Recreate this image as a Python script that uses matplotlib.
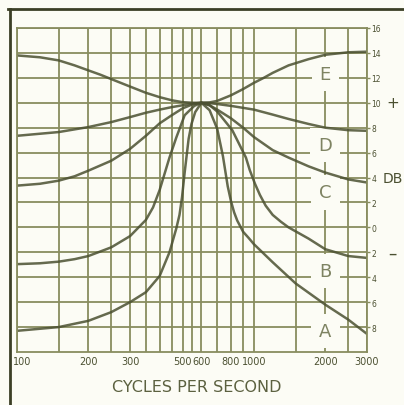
"""
Response curves A-E: level (DB) vs frequency, all meeting at +10 DB near 600 c/s.
Recreated from a scanned chart; values read off the picture.
"""

import matplotlib
matplotlib.use("Agg")
import matplotlib.pyplot as plt
from matplotlib.lines import Line2D
from matplotlib.transforms import ScaledTranslation

# ── data ──────────────────────────────────────────────────────────────────────

E_HZ = [100, 125, 150, 175, 200, 225, 250, 300, 350, 400, 450, 500, 550, 600,
        650, 700, 800, 900, 1000, 1100, 1200, 1400, 1700, 2000, 2500, 3000]
E_DB = [13.8, 13.65, 13.4, 13.0, 12.6, 12.25, 11.9, 11.3, 10.8, 10.45, 10.2, 10.05, 10.0, 10.0,
        10.03, 10.15, 10.6, 11.1, 11.6, 12.0, 12.4, 13.0, 13.5, 13.85, 14.05, 14.1]

D_HZ = [100, 150, 200, 250, 300, 350, 400, 450, 500, 550, 600,
        650, 700, 800, 1000, 1200, 1400, 1700, 2000, 2500, 3000]
D_DB = [7.35, 7.65, 8.05, 8.45, 8.85, 9.2, 9.45, 9.65, 9.8, 9.93, 10.0,
        9.97, 9.9, 9.75, 9.45, 9.05, 8.7, 8.3, 8.0, 7.8, 7.75]

C_HZ = [100, 125, 150, 175, 200, 250, 300, 350, 400, 450, 500, 550, 600,
        650, 700, 800, 900, 1000, 1200, 1400, 1700, 2000, 2500, 3000]
C_DB = [3.35, 3.5, 3.75, 4.1, 4.55, 5.35, 6.3, 7.35, 8.35, 9.0, 9.55, 9.87, 10.0,
        9.8, 9.45, 8.75, 8.0, 7.25, 6.2, 5.6, 4.9, 4.4, 3.85, 3.6]

B_HZ = [100, 125, 150, 175, 200, 250, 300, 350, 375, 400, 440, 470, 510, 560, 600,
        650, 700, 810, 925, 960, 1010, 1060, 1120, 1200, 1300, 1400, 1700, 2000, 2500, 3000]
B_DB = [-2.95, -2.88, -2.75, -2.55, -2.3, -1.6, -0.7, 0.6, 1.6, 3.0, 5.6, 7.2, 9.0, 9.75, 10.0,
        9.8, 9.3, 7.8, 5.6, 4.6, 3.5, 2.6, 1.75, 1.0, 0.45, 0.0, -0.9, -1.75, -2.3, -2.45]

A_HZ = [100, 150, 200, 250, 300, 350, 400, 440, 470, 485, 497, 510, 530, 545, 565, 600,
        650, 700, 740, 775, 800, 825, 850, 900, 950, 1000, 1200, 1500, 2000, 2500, 3000]
A_DB = [-8.3, -8.0, -7.5, -6.8, -6.0, -5.2, -3.9, -2.0, -0.1, 1.0, 2.4, 4.4, 7.1, 8.3, 9.25, 10.0,
        9.4, 7.9, 5.7, 3.3, 2.1, 1.2, 0.55, -0.35, -0.85, -1.35, -2.8, -4.5, -6.2, -7.4, -8.55]

CURVES = [(E_HZ, E_DB), (D_HZ, D_DB), (C_HZ, C_DB), (B_HZ, B_DB), (A_HZ, A_DB)]

CURVE_NAMES = ["E", "D", "C", "B", "A"]
NAME_HZ = 2000
NAME_DB = [12.3, 6.6, 2.8, -3.5, -8.3]

GRID_HZ = [100, 150, 200, 250, 300, 350, 400, 450, 500, 550, 600,
           700, 800, 900, 1000, 1500, 2000, 2500, 3000]
LABELED_HZ = [100, 200, 300, 500, 600, 800, 1000, 2000, 3000]
DB_TICKS = list(range(-8, 17, 2))

# ── style ─────────────────────────────────────────────────────────────────────

BG = "#fcfcf5"
GRID = "#888d5f"
INK = "#4b5031"
SOFT = "#7e8362"
FRAME = "#3c3f26"

W, H = 404, 406

fig = plt.figure(figsize=(W / 100, H / 100), dpi=100, facecolor=BG)
ax = fig.add_axes([17 / W, 53 / H, 350 / W, 324 / H])
ax.set_facecolor(BG)

ax.set_xscale("log")
ax.set_xlim(100, 3000)
ax.set_ylim(-10, 16)
ax.minorticks_off()
ax.set_xticks(GRID_HZ)
ax.set_xticklabels([str(f) if f in LABELED_HZ else "" for f in GRID_HZ])
ax.set_yticks(DB_TICKS)
ax.set_yticklabels([str(abs(v)) for v in DB_TICKS])
ax.yaxis.tick_right()
ax.tick_params(axis="x", length=0, pad=3, labelsize=7, labelcolor=INK)
ax.tick_params(axis="y", length=2, width=1, color=GRID, pad=1,
               labelsize=5.5, labelcolor=INK)

# the "100" label hangs off the left edge in the original, nudge it in
first = ax.get_xticklabels()[0]
first.set_ha("left")
first.set_transform(first.get_transform() + ScaledTranslation(-4 / 100, 0, fig.dpi_scale_trans))

ax.set_axisbelow(True)
ax.grid(True, color=GRID, lw=1.3)
for s in ax.spines.values():
    s.set_color(GRID)
    s.set_linewidth(1.3)
    s.set_zorder(2.5)

for hz, db in CURVES:
    ax.plot(hz, db, color=INK, lw=1.8, alpha=0.85, zorder=2,
            solid_capstyle="round", solid_joinstyle="round")

# curve letters sit on the 2000 c/s line with a paper-coloured box over the grid
for name, db in zip(CURVE_NAMES, NAME_DB):
    ax.text(NAME_HZ, db, name, ha="center", va="center", fontsize=13,
            color=SOFT, zorder=1.5,
            bbox=dict(boxstyle="square,pad=0.45", fc=BG, ec="none"))

# right-hand sign / unit marks
side = ax.get_yaxis_transform()
ax.text(1.074, 10, "+", transform=side, ha="center", va="center",
        fontsize=11, color=INK, clip_on=False)
ax.text(1.046, 4, "DB", transform=side, ha="left", va="center",
        fontsize=10, color=INK, clip_on=False)
ax.text(1.074, -2, "\u2013", transform=side, ha="center", va="center",
        fontsize=12, color=INK, clip_on=False)

fig.text(0.488, 1 - 388 / H, "CYCLES PER SECOND", ha="center", va="center",
         fontsize=11.5, color="#5c6140")

# scan frame: top rule and left rule
fig.add_artist(Line2D([8 / W, 1], [1 - 9.5 / H] * 2, color=FRAME, lw=2))
fig.add_artist(Line2D([9.5 / W] * 2, [0, 1 - 9.5 / H], color=FRAME, lw=2))

fig.savefig("out.png", dpi=100, facecolor=BG)
